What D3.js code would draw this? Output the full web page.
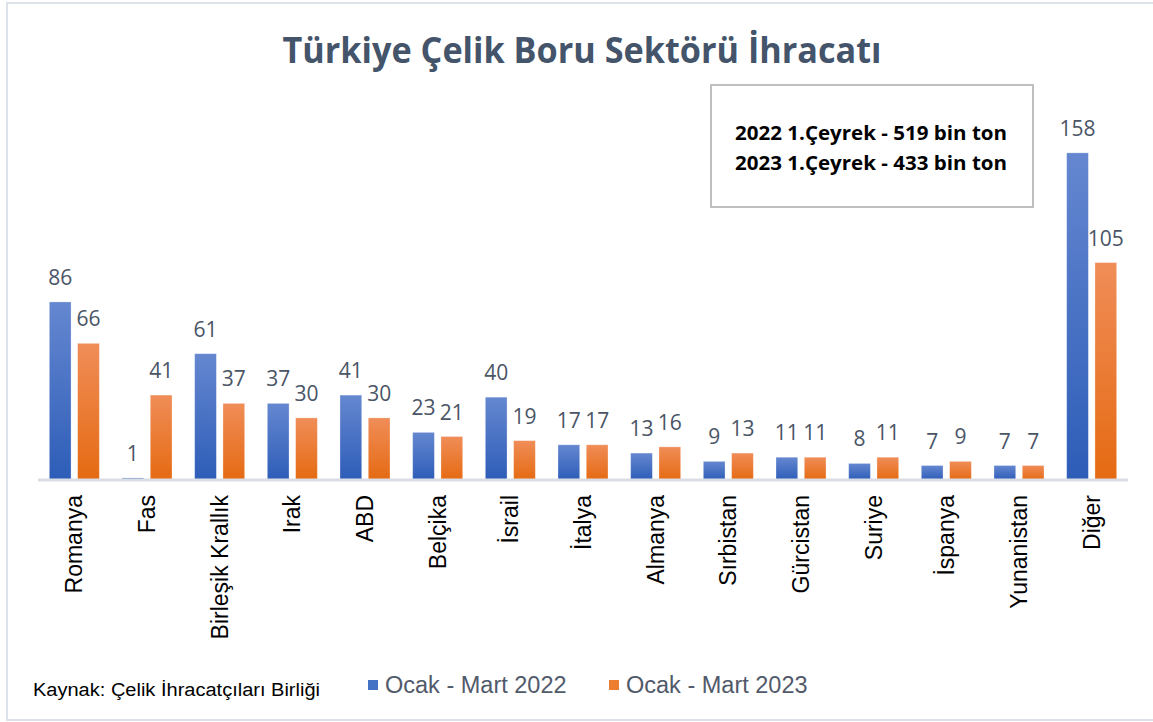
<!DOCTYPE html>
<html>
<head>
<meta charset="utf-8">
<script src="https://cdn.jsdelivr.net/npm/d3@7"></script>
<style>
  html, body { margin: 0; padding: 0; background: #ffffff; }
  svg { display: block; }
</style>
</head>
<body>
<svg id="chart" width="1153" height="722"></svg>
<script>
const categories = ["Romanya", "Fas", "Birleşik Krallık", "Irak", "ABD", "Belçika", "İsrail", "İtalya", "Almanya", "Sırbistan", "Gürcistan", "Suriye", "İspanya", "Yunanistan", "Diğer"];
const series2022 = [86, 1, 61, 37, 41, 23, 40, 17, 13, 9, 11, 8, 7, 7, 158];
const series2023 = [66, 41, 37, 30, 30, 21, 19, 17, 16, 13, 11, 11, 9, 7, 105];
const seriesNames = ["Ocak - Mart 2022", "Ocak - Mart 2023"];
const titleText = "Türkiye Çelik Boru Sektörü İhracatı";
const boxLines = ["2022 1.Çeyrek - 519 bin ton", "2023 1.Çeyrek - 433 bin ton"];
const sourceText = "Kaynak: Çelik İhracatçıları  Birliği";

const svg = d3.select("#chart");
const W = 1153, H = 722;

// frame
svg.append("path")
  .attr("d", `M${W},3 H7 V720 H${W}`)
  .attr("fill", "none").attr("stroke", "#dde1ea").attr("stroke-width", 2);

// gradients
const defs = svg.append("defs");
const grads = [
  {id: "gBlue", top: "#6587d0", bottom: "#2d5db8"},
  {id: "gOrange", top: "#f08d58", bottom: "#e56a12"}
];
grads.forEach(g => {
  const lg = defs.append("linearGradient").attr("id", g.id)
    .attr("x1", 0).attr("y1", 0).attr("x2", 0).attr("y2", 1);
  lg.append("stop").attr("offset", "0%").attr("stop-color", g.top);
  lg.append("stop").attr("offset", "100%").attr("stop-color", g.bottom);
});
const fills = ["url(#gBlue)", "url(#gOrange)"];
const legendColors = ["#4472c4", "#ed7d31"];

// scales
const x0 = d3.scaleBand().domain(categories).range([38, 1128])
  .paddingInner(0.312).paddingOuter(0.156);
const x1 = d3.scaleBand().domain([0, 1]).range([0, x0.bandwidth()])
  .paddingInner(0.233).paddingOuter(0);
const y = d3.scaleLinear().domain([0, 170]).range([480, 128]);

const data = categories.map((c, i) => ({cat: c, vals: [series2022[i], series2023[i]]}));

// title
svg.append("text")
  .attr("x", 582).attr("y", 63)
  .attr("text-anchor", "middle")
  .attr("font-family", "'Open Sans', sans-serif")
  .attr("font-weight", "bold")
  .attr("font-size", 36)
  .attr("fill", "#44546a")
  .attr("textLength", 599).attr("lengthAdjust", "spacingAndGlyphs")
  .text(titleText);

// bars
const groups = svg.append("g").selectAll("g").data(data).join("g")
  .attr("transform", d => `translate(${x0(d.cat)},0)`);

groups.selectAll("rect").data(d => d.vals.map((v, k) => ({v, k}))).join("rect")
  .attr("x", d => x1(d.k))
  .attr("width", x1.bandwidth())
  .attr("y", d => y(d.v))
  .attr("height", d => y(0) - y(d.v))
  .attr("fill", d => fills[d.k])
  .attr("stroke", "#ffffff").attr("stroke-opacity", 0.35).attr("stroke-width", 0.8);

groups.selectAll("text.val").data(d => d.vals.map((v, k) => ({v, k}))).join("text")
  .attr("class", "val")
  .attr("x", d => x1(d.k) + x1.bandwidth() / 2)
  .attr("y", d => y(d.v) - 17)
  .attr("text-anchor", "middle")
  .attr("font-family", "'Open Sans', sans-serif")
  .attr("font-size", 21)
  .attr("fill", "#4a5566")
  .text(d => d.v);

// x axis (drawn over the bars)
const xAxis = d3.axisBottom(x0).tickSize(0).tickPadding(0);
const axisG = svg.append("g").attr("transform", `translate(0,${y(0)})`).call(xAxis);
axisG.select(".domain").attr("stroke", "#dadde3").attr("stroke-width", 3)
  .attr("d", "M38,0H1128");
axisG.selectAll(".tick text")
  .attr("transform", "translate(0,15) rotate(-90)")
  .attr("x", 0).attr("y", 0).attr("dy", "0.35em")
  .attr("text-anchor", "end")
  .attr("font-family", "'Liberation Sans', Arial, sans-serif")
  .attr("font-size", 23)
  .attr("fill", "#000000");

// info box
svg.append("rect")
  .attr("x", 711).attr("y", 85).attr("width", 322).attr("height", 122)
  .attr("fill", "#ffffff").attr("stroke", "#bfbfbf").attr("stroke-width", 2);
svg.selectAll("text.box").data(boxLines).join("text")
  .attr("class", "box")
  .attr("x", 871).attr("y", (d, i) => 140 + i * 30)
  .attr("text-anchor", "middle")
  .attr("font-family", "'Open Sans', sans-serif")
  .attr("font-weight", "bold")
  .attr("font-size", 20)
  .attr("fill", "#000000")
  .attr("textLength", 272).attr("lengthAdjust", "spacingAndGlyphs")
  .text(d => d);

// source
svg.append("text")
  .attr("x", 33).attr("y", 696)
  .attr("font-family", "'Liberation Sans', Arial, sans-serif")
  .attr("font-size", 18)
  .attr("fill", "#000000")
  .attr("textLength", 287).attr("lengthAdjust", "spacingAndGlyphs")
  .text(sourceText);

// legend
const legendX = [368, 609];
seriesNames.forEach((name, i) => {
  svg.append("rect")
    .attr("x", legendX[i]).attr("y", 680).attr("width", 10).attr("height", 10)
    .attr("fill", legendColors[i]);
  svg.append("text")
    .attr("x", legendX[i] + 17).attr("y", 693)
    .attr("font-family", "'Liberation Sans', Arial, sans-serif")
    .attr("font-size", 23.5)
    .attr("fill", "#515a6b")
    .text(name);
});
</script>
</body>
</html>
